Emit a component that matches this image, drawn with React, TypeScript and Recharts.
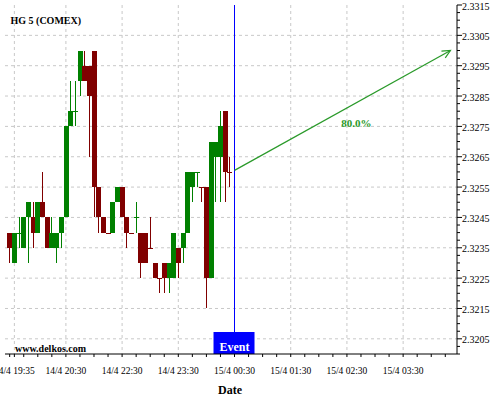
import React from 'react';
import { ComposedChart, Bar, XAxis, YAxis, CartesianGrid, ReferenceLine } from 'recharts';

// 5-minute candles, index 0 = 14/4 19:30
const OPEN = [
  2.3240, 2.3230, 2.3240, 2.3235, 2.3245, 2.3245, 2.3240, 2.3250, 2.3245, 2.3235,
  2.3235, 2.3240, 2.3245, 2.3275, 2.3280, 2.3290, 2.3295, 2.3295, 2.3300, 2.3255,
  2.3245, 2.3240, 2.3240, 2.3250, 2.3255, 2.3245, 2.3240, 2.3245, 2.3240, 2.3230,
  2.3235, 2.3230, 2.3225, 2.3230, 2.3225, 2.3225, 2.3235, 2.3235, 2.3240, 2.3255,
  2.3260, 2.3255, 2.3255, 2.3225, 2.3265, 2.3265, 2.3280, 2.3260,
];
const HIGH = [
  2.3240, 2.3240, 2.3245, 2.3245, 2.3250, 2.3250, 2.3250, 2.3260, 2.3245, 2.3245,
  2.3240, 2.3245, 2.3275, 2.3290, 2.3290, 2.3300, 2.3300, 2.3295, 2.3300, 2.3255,
  2.3245, 2.3240, 2.3250, 2.3255, 2.3255, 2.3245, 2.3240, 2.3250, 2.3240, 2.3240,
  2.3245, 2.3230, 2.3225, 2.3230, 2.3230, 2.3240, 2.3235, 2.3240, 2.3260, 2.3260,
  2.3260, 2.3255, 2.3255, 2.3270, 2.3270, 2.3280, 2.3280, 2.3265,
];
const LOW = [
  2.3230, 2.3230, 2.3235, 2.3235, 2.3230, 2.3235, 2.3240, 2.3245, 2.3235, 2.3235,
  2.3230, 2.3235, 2.3245, 2.3275, 2.3275, 2.3285, 2.3290, 2.3265, 2.3245, 2.3240,
  2.3240, 2.3240, 2.3240, 2.3250, 2.3245, 2.3235, 2.3240, 2.3240, 2.3225, 2.3230,
  2.3235, 2.3225, 2.3220, 2.3220, 2.3220, 2.3225, 2.3225, 2.3230, 2.3240, 2.3250,
  2.3255, 2.3250, 2.3215, 2.3225, 2.3250, 2.3250, 2.3250, 2.3255,
];
const CLOSE = [
  2.3235, 2.3240, 2.3240, 2.3245, 2.3250, 2.3240, 2.3250, 2.3245, 2.3235, 2.3240,
  2.3240, 2.3245, 2.3275, 2.3280, 2.3280, 2.3300, 2.3290, 2.3285, 2.3255, 2.3245,
  2.3240, 2.3240, 2.3250, 2.3255, 2.3245, 2.3240, 2.3240, 2.3245, 2.3230, 2.3240,
  2.3235, 2.3225, 2.3225, 2.3225, 2.3230, 2.3240, 2.3230, 2.3240, 2.3260, 2.3260,
  2.3260, 2.3255, 2.3225, 2.3270, 2.3270, 2.3275, 2.3260, 2.3260,
];
// candle colour: u = up (green), d = down (maroon)
const DIR = 'duuuududduuuuuuudddddduudddudddddduuduuuudduuudd'.split('');

const X_LABEL_IDX = [1, 12, 24, 36, 48, 60, 72, 84];
const X_LABELS = ['14/4 19:35', '14/4 20:30', '14/4 22:30', '14/4 23:30', '15/4 00:30', '15/4 01:30', '15/4 02:30', '15/4 03:30'];
const Y_LABELS = ['2.3205', '2.3215', '2.3225', '2.3235', '2.3245', '2.3255', '2.3265', '2.3275', '2.3285', '2.3295', '2.3305', '2.3315'];

const EVENT_IDX = 48;
const FORECAST_FROM = { i: 48, v: 2.32605 };
const FORECAST_TO = { i: 94.1, v: 2.33 };
const FORECAST_LABEL = '80.0%';

const GREEN = '#008000';
const MAROON = '#800000';
const ARROW = '#2a9a2a';
const FONT = '"Liberation Serif", "Times New Roman", serif';

const data = OPEN.map((o, i) => ({
  i,
  range: [LOW[i], HIGH[i]],
  o,
  h: HIGH[i],
  l: LOW[i],
  c: CLOSE[i],
  up: DIR[i] === 'u',
}));

const Y_TICKS: number[] = [];
for (let k = 0; k <= 46; k++) Y_TICKS.push(Math.round((2.32 + k * 0.00025) * 1e5) / 1e5);
const X_TICKS: number[] = [];
for (let k = 0; k <= 93; k += 3) { X_TICKS.push(k); if (k === 0) X_TICKS.push(1); }

const GRID_Y = Y_LABELS.slice(0, -1).map(parseFloat);

const Candle = (props: any) => {
  const { x, y, width, height, payload } = props;
  if (x == null || y == null) return null;
  const { o, h, l, c, up } = payload;
  const col = up ? GREEN : MAROON;
  const top = Math.min(y, y + height);
  const hh = Math.abs(height);
  const yOf = (v: number) => (h === l ? top : top + ((h - v) / (h - l)) * hh);
  const cx = x + width / 2;
  const bx1 = Math.round(x);
  const bx2 = Math.round(x + width);
  const yb1 = Math.round(yOf(Math.max(o, c)));
  const yb2 = Math.round(yOf(Math.min(o, c)));
  const wy1 = Math.round(yOf(h));
  const wy2 = Math.round(yOf(l));
  return (
    <g shapeRendering="crispEdges">
      {wy2 > wy1 && <rect x={Math.floor(cx)} y={wy1} width={1} height={wy2 - wy1} fill={col} />}
      <rect x={bx1} y={yb2 > yb1 ? yb1 : yb1 - 0} width={bx2 - bx1} height={Math.max(1, yb2 - yb1)} fill={col} />
    </g>
  );
};

const YTick = (props: any) => {
  const { x, y, payload } = props;
  const v = payload.value;
  const lbl = Y_LABELS.find((s) => Math.abs(parseFloat(s) - v) < 1e-7);
  return (
    <g>
      <line x1={x} x2={x + (lbl ? 5 : 3)} y1={y} y2={y} stroke="#000" />
      {lbl && (
        <text x={x + 5} y={y} dy={4.5} fontSize={10} fontFamily={FONT} fill="#000">
          {lbl}
        </text>
      )}
    </g>
  );
};

const XTick = (props: any) => {
  const { x, y, payload } = props;
  const k = X_LABEL_IDX.indexOf(payload.value);
  return (
    <g>
      <line x1={x} x2={x} y1={y} y2={y + 3} stroke="#000" />
      {k >= 0 && (
        <text x={x} y={y + 20} textAnchor="middle" fontSize={9.5} fontFamily={FONT} fill="#000">
          {X_LABELS[k]}
        </text>
      )}
    </g>
  );
};

const EventShape = (p: any) => {
  const x = p.x1;
  const yTop = Math.min(p.y1, p.y2);
  const yBot = Math.max(p.y1, p.y2);
  return (
    <g>
      <line x1={x} x2={x} y1={yTop} y2={yBot - 22} stroke="#0000ff" strokeWidth={1} />
      <rect x={x - 21} y={yBot - 22} width={41} height={22} fill="#0000ff" />
      <text x={x} y={yBot - 3.5} textAnchor="middle" fontSize={12} fontWeight="bold" fontFamily={FONT} fill="#fff">
        Event
      </text>
    </g>
  );
};

const ArrowShape = (p: any) => {
  const { x1, y1, x2, y2 } = p;
  const ang = Math.atan2(y2 - y1, x2 - x1);
  const L = 9;
  const a1 = ang + Math.PI - 0.45;
  const a2 = ang + Math.PI + 0.45;
  const mx = (x1 + x2) / 2;
  const my = (y1 + y2) / 2;
  return (
    <g>
      <line x1={x1} y1={y1} x2={x2} y2={y2} stroke={ARROW} strokeWidth={1.2} />
      <polyline
        points={`${x2 + L * Math.cos(a1)},${y2 + L * Math.sin(a1)} ${x2},${y2} ${x2 + L * Math.cos(a2)},${y2 + L * Math.sin(a2)}`}
        fill="none"
        stroke={ARROW}
        strokeWidth={1.2}
      />
      <text x={mx + 14} y={my + 17} textAnchor="middle" fontSize={11} fontWeight="bold" fontFamily={FONT} fill={ARROW}>
        {FORECAST_LABEL}
      </text>
    </g>
  );
};

export default function App() {
  return (
    <div style={{ position: 'absolute', left: 0, top: 0, width: 500, height: 400, background: '#fff' }}>
      <ComposedChart
        width={500}
        height={400}
        data={data}
        margin={{ top: 5, right: 0, bottom: 0, left: 5 }}
        barCategoryGap={0}
        barGap={0}
      >
        <CartesianGrid
          stroke="#c8c8c8"
          strokeDasharray="3 3"
          horizontalValues={GRID_Y}
          verticalValues={X_LABEL_IDX}
        />
        <XAxis
          dataKey="i"
          type="number"
          domain={[-1, 95.5]}
          allowDataOverflow
          ticks={X_TICKS}
          interval={0}
          tick={<XTick />}
          tickLine={false}
          tickSize={0}
          tickMargin={0}
          axisLine={{ stroke: '#000' }}
          height={46}
        />
        <YAxis
          orientation="right"
          type="number"
          domain={[2.32, 2.3315]}
          allowDataOverflow
          ticks={Y_TICKS}
          interval={0}
          tick={<YTick />}
          tickLine={false}
          tickSize={0}
          tickMargin={0}
          axisLine={{ stroke: '#000' }}
          width={43}
        />
        <Bar dataKey="range" shape={Candle} isAnimationActive={false} />
        <ReferenceLine x={EVENT_IDX} shape={EventShape} ifOverflow="visible" />
        <ReferenceLine
          segment={[{ x: FORECAST_FROM.i, y: FORECAST_FROM.v }, { x: FORECAST_TO.i, y: FORECAST_TO.v }]}
          shape={ArrowShape}
          ifOverflow="visible"
        />
        <text x={10.5} y={24} fontSize={10} fontWeight="bold" fontFamily={FONT} fill="#000">
          HG 5 (COMEX)
        </text>
        <text x={15} y={352} fontSize={10} fontWeight="bold" fontFamily={FONT} fill="#000">
          www.delkos.com
        </text>
        <text x={230} y={394} textAnchor="middle" fontSize={12} fontWeight="bold" fontFamily={FONT} fill="#000">
          Date
        </text>
      </ComposedChart>
    </div>
  );
}
